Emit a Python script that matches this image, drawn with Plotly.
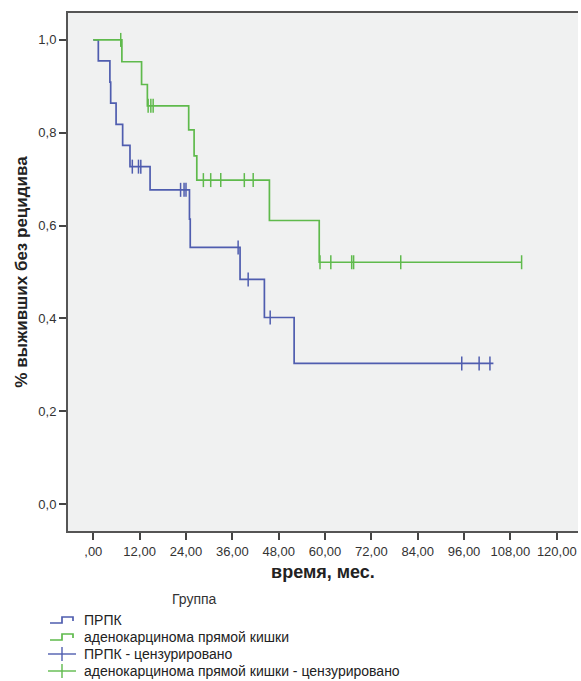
import plotly.graph_objects as go

# Kaplan–Meier step data (months, survival fraction)
prpk_times = [0, 1.3, 4.3, 4.5, 5.9, 7.6, 9.5, 14.7, 24.9, 25.1, 38.0, 44.3, 52.0]
prpk_surv = [1.0, 0.955, 0.909, 0.864, 0.818, 0.773, 0.727, 0.677, 0.614, 0.553, 0.484, 0.402, 0.303]
prpk_end = 103.6
prpk_censored = [10.1, 11.7, 12.3, 22.6, 23.5, 24.0, 37.5, 40.1, 45.8, 95.4, 99.9, 102.7]

adeno_times = [0, 7.4, 12.5, 14.0, 24.7, 26.1, 26.8, 45.6, 58.5]
adeno_surv = [1.0, 0.953, 0.904, 0.858, 0.806, 0.750, 0.698, 0.611, 0.521]
adeno_end = 111.0
adeno_censored = [7.1, 14.2, 14.9, 15.5, 28.5, 30.4, 33.0, 39.1, 41.4,
                  58.7, 61.5, 66.9, 67.4, 79.6, 110.9]

x_ticks = [0, 12, 24, 36, 48, 60, 72, 84, 96, 108, 120]
x_tick_text = [",00", "12,00", "24,00", "36,00", "48,00", "60,00", "72,00",
               "84,00", "96,00", "108,00", "120,00"]
y_ticks = [0.0, 0.2, 0.4, 0.6, 0.8, 1.0]
y_tick_text = ["0,0", "0,2", "0,4", "0,6", "0,8", "1,0"]

group_names = ["ПРПК", "аденокарцинома прямой кишки"]
legend_labels = ["ПРПК", "аденокарцинома прямой кишки",
                 "ПРПК - цензурировано", "аденокарцинома прямой кишки - цензурировано"]

BLUE = "#4f5daf"
GREEN = "#5fba4c"
FONT = "Liberation Sans, Arial, sans-serif"


def level_at(times, surv, t):
    """Value of the KM step function at time t (right-continuous)."""
    val = surv[0]
    for tt, s in zip(times, surv):
        if tt <= t:
            val = s
    return val


fig = go.Figure()

for times, surv, end, cens, color, name in [
    (prpk_times, prpk_surv, prpk_end, prpk_censored, BLUE, group_names[0]),
    (adeno_times, adeno_surv, adeno_end, adeno_censored, GREEN, group_names[1]),
]:
    fig.add_trace(go.Scatter(
        x=times + [end], y=surv + [surv[-1]],
        mode="lines", line=dict(color=color, width=1.7, shape="hv"),
        name=name, showlegend=False, hoverinfo="skip",
    ))
    fig.add_trace(go.Scatter(
        x=cens, y=[level_at(times, surv, t) for t in cens],
        mode="markers",
        marker=dict(symbol="line-ns", size=10, line=dict(color=color, width=1.5)),
        name=name + " - цензурировано", showlegend=False,
    ))

# Plot area in pixels (for placing the legend block below the axes)
PL, PR, PT, PB = 68, 578, 13, 531


def px(x):
    return (x - PL) / (PR - PL)


def py(y):
    return (PB - y) / (PB - PT)


shapes = []
annotations = []

annotations.append(dict(
    text="Группа", x=px(194), y=py(599), xref="paper", yref="paper",
    showarrow=False, xanchor="center", yanchor="middle",
    font=dict(family=FONT, size=14, color="#333333"),
))

row_y = [620, 637, 654, 671]
icon_colors = [BLUE, GREEN, BLUE, GREEN]
for i, (label, yy, col) in enumerate(zip(legend_labels, row_y, icon_colors)):
    if i < 2:
        # step icon
        path = (f"M {px(50)} {py(yy + 3)} L {px(62)} {py(yy + 3)} "
                f"L {px(62)} {py(yy - 3)} L {px(73)} {py(yy - 3)} L {px(73)} {py(yy + 1)}")
        shapes.append(dict(type="path", path=path, xref="paper", yref="paper",
                           line=dict(color=col, width=1.7)))
    else:
        shapes.append(dict(type="line", x0=px(48), x1=px(76), y0=py(yy), y1=py(yy),
                           xref="paper", yref="paper", line=dict(color=col, width=1.4)))
        shapes.append(dict(type="line", x0=px(62), x1=px(62), y0=py(yy - 7), y1=py(yy + 7),
                           xref="paper", yref="paper", line=dict(color=col, width=1.4)))
    annotations.append(dict(
        text=label, x=px(82), y=py(yy), xref="paper", yref="paper",
        showarrow=False, xanchor="left", yanchor="middle",
        font=dict(family=FONT, size=14, color="#222222"),
    ))

fig.update_layout(
    width=581, height=681,
    margin=dict(l=PL, r=581 - PR, t=PT, b=681 - PB),
    paper_bgcolor="white",
    plot_bgcolor="#f0f1f1",
    showlegend=False,
    font=dict(family=FONT, color="#333333"),
    shapes=shapes,
    annotations=annotations,
    xaxis=dict(
        range=[-6.55, 125.5],
        tickmode="array", tickvals=x_ticks, ticktext=x_tick_text,
        ticks="outside", ticklen=7, tickwidth=2, tickcolor="#444444",
        showline=True, linecolor="#555555", linewidth=2, mirror=True,
        showgrid=False, zeroline=False,
        tickfont=dict(family=FONT, size=13, color="#333333"),
        title=dict(text="<b>время, мес.</b>", standoff=8,
                   font=dict(family=FONT, size=18, color="#222222")),
    ),
    yaxis=dict(
        range=[-0.058, 1.058],
        tickmode="array", tickvals=y_ticks, ticktext=y_tick_text,
        ticks="outside", ticklen=7, tickwidth=2, tickcolor="#444444",
        showline=True, linecolor="#555555", linewidth=2,
        showgrid=False, zeroline=False,
        tickfont=dict(family=FONT, size=13, color="#333333"),
        title=dict(text="<b>% выживших без рецидива</b>", standoff=6,
                   font=dict(family=FONT, size=17, color="#222222")),
    ),
)

fig.write_html("out.html")
